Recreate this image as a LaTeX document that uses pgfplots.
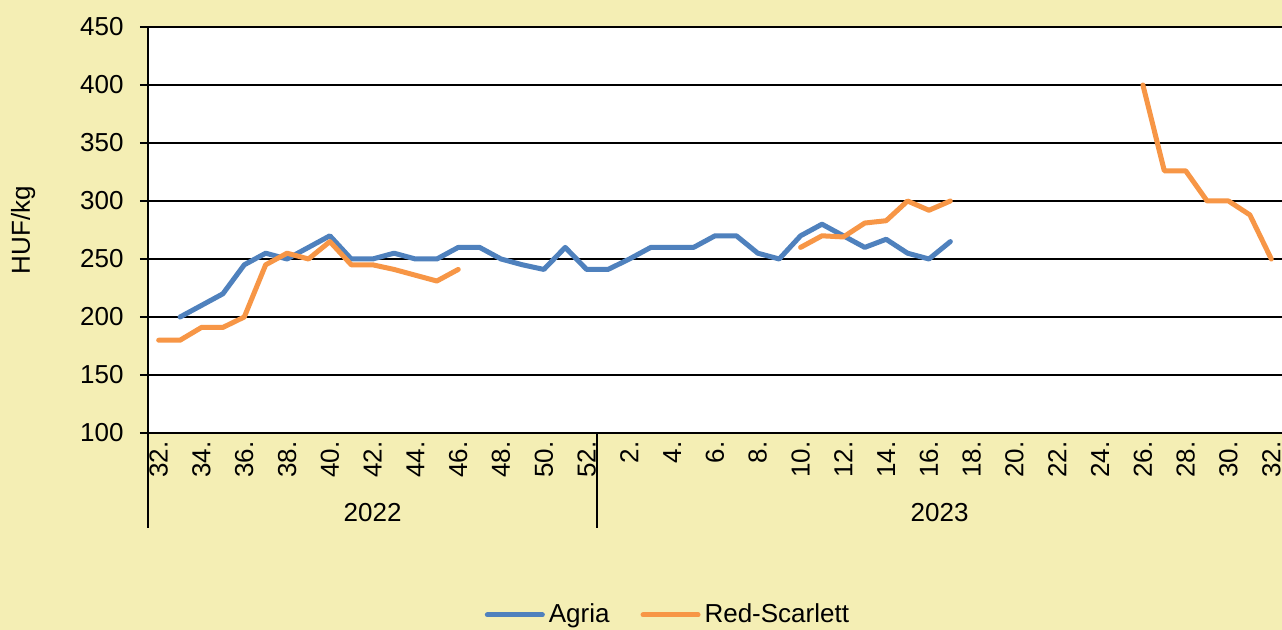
\documentclass[border=0pt]{standalone}
\usepackage{pgfplots}
\pgfplotsset{compat=1.18}
\usepackage{fontspec}
\setmainfont{Liberation Sans}
\definecolor{bgyel}{RGB}{244,238,180}
\definecolor{agria}{RGB}{79,129,189}
\definecolor{redsc}{RGB}{247,150,70}
\begin{document}
\begin{tikzpicture}[font=\fontsize{13}{15.5}\selectfont]
\fill[bgyel] (-74pt,-98.5pt) rectangle (567pt,216.5pt);
\useasboundingbox (-74pt,-98.5pt) rectangle (567pt,216.5pt);
\begin{axis}[
  at={(0,0)}, anchor=south west,
  scale only axis, width=567pt, height=203pt,
  xmin=-0.5, xmax=52.5, ymin=100, ymax=450,
  ytick={100,150,...,450},
  xtick={0,2,...,52},
  xticklabels={32.,34.,36.,38.,40.,42.,44.,46.,48.,50.,52.,2.,4.,6.,8.,10.,12.,14.,16.,18.,20.,22.,24.,26.,28.,30.,32.},
  /pgf/number format/assume math mode=true,
  axis background/.style={fill=white},
  axis lines=left,
  axis line style={-, line width=1pt, black},
  ymajorgrids,
  grid style={black, line width=1pt},
  x tick style={draw=none},
  y tick style={black, line width=1pt},
  tick align=outside,
  major tick length=4pt,
  xticklabel style={rotate=90, anchor=east, inner xsep=0pt, inner ysep=0pt},
  yticklabel style={anchor=east, inner xsep=0pt, xshift=-8pt},
  ylabel={HUF/kg},
  ylabel style={at={(axis description cs:-0.1102,0.5)}, anchor=center},
  unbounded coords=jump,
  clip=false,
  legend style={at={(0.4594,-0.448)}, anchor=center, draw=none, fill=none,
    legend columns=2, /tikz/every even column/.append style={column sep=13.5pt},
    inner sep=0pt},
  legend image code/.code={\draw[#1,line cap=round] (0pt,0pt) -- (27.5pt,0pt);},
]
\addplot[agria, line width=2.5pt, line join=round, line cap=round] coordinates {
(1,200) (2,210) (3,220) (4,245) (5,255) (6,250) (7,260) (8,270) (9,250) (10,250)
(11,255) (12,250) (13,250) (14,260) (15,260) (16,250) (17,245) (18,241) (19,260) (20,241)
(21,241) (22,250) (23,260) (24,260) (25,260) (26,270) (27,270) (28,255) (29,250) (30,270)
(31,280) (32,270) (33,260) (34,267) (35,255) (36,250) (37,265)
};
\addlegendentry{Agria}
\addplot[redsc, line width=2.5pt, line join=round, line cap=round] coordinates {
(0,180) (1,180) (2,191) (3,191) (4,200) (5,245) (6,255) (7,250) (8,265) (9,245)
(10,245) (11,241) (12,236) (13,231) (14,241) (15,nan)
(29,nan) (30,260) (31,270) (32,269) (33,281) (34,283) (35,300) (36,292) (37,300) (38,nan)
(45,nan) (46,400) (47,326) (48,326) (49,300) (50,300) (51,288) (52,250)
};
\addlegendentry{Red-Scarlett}
\draw[line width=1pt] (axis cs:-0.5,100) -- ++(0pt,-47.5pt);
\draw[line width=1pt] (axis cs:20.5,100) -- ++(0pt,-47.5pt);
\node at (axis cs:10,100) [yshift=-40pt] {2022};
\node at (axis cs:36.5,100) [yshift=-40pt] {2023};
\end{axis}
\end{tikzpicture}
\end{document}
